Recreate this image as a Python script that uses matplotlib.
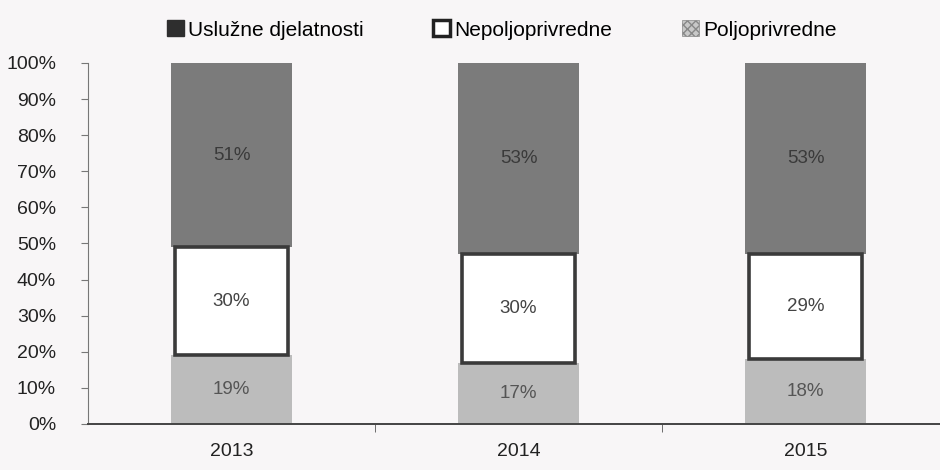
import matplotlib
matplotlib.use("Agg")
import matplotlib.pyplot as plt
from matplotlib.patches import Patch
import numpy as np

years = ["2013", "2014", "2015"]
poljoprivredne = [19, 17, 18]
nepoljoprivredne = [30, 30, 29]
usluzne = [51, 53, 53]
yticks = [0, 10, 20, 30, 40, 50, 60, 70, 80, 90, 100]
ytick_labels = [f"{v}%" for v in yticks]

plt.rcParams['font.family'] = ['Liberation Sans', 'DejaVu Sans']

bg = "#f8f6f7"
fig = plt.figure(figsize=(9.4, 4.7), dpi=100, facecolor=bg)
ax = fig.add_axes([0.0936, 0.098, 0.916, 0.768], facecolor=bg)

x = np.arange(len(years))
w = 0.42
c_bottom = "#bcbcbc"
c_top = "#7b7b7b"
edge_mid = "#3a3a3a"

ax.bar(x, poljoprivredne, w, color=c_bottom, edgecolor="none", zorder=2)
b1 = np.array(poljoprivredne)
ax.bar(x, nepoljoprivredne, w * 0.93, bottom=b1, color="white",
       edgecolor=edge_mid, linewidth=2.6, zorder=3)
b2 = b1 + np.array(nepoljoprivredne)
ax.bar(x, usluzne, w, bottom=b2, color=c_top, edgecolor="none", zorder=2)

for i in range(len(years)):
    ax.text(x[i], poljoprivredne[i] / 2, f"{poljoprivredne[i]}%", ha="center",
            va="center", fontsize=13.5, color="#555555", zorder=4)
    ax.text(x[i], b1[i] + nepoljoprivredne[i] / 2, f"{nepoljoprivredne[i]}%",
            ha="center", va="center", fontsize=13.5, color="#444444", zorder=4)
    ax.text(x[i], b2[i] + usluzne[i] / 2, f"{usluzne[i]}%", ha="center",
            va="center", fontsize=13.5, color="#3a3a3a", zorder=4)

ax.set_xlim(-0.5, 2.5)
ax.set_ylim(0, 100)
ax.set_yticks(yticks)
ax.set_yticklabels(ytick_labels, fontsize=14, color="#222222")
ax.set_xticks(x)
ax.set_xticklabels(years, fontsize=14, color="#222222")
ax.set_xticks([0.5, 1.5], minor=True)
ax.tick_params(axis="x", which="major", length=0, pad=14)
ax.tick_params(axis="x", which="minor", length=6, direction="out", color="#555555")
ax.tick_params(axis="y", length=5, direction="out", color="#777777", pad=18)
for s in ["top", "right"]:
    ax.spines[s].set_visible(False)
ax.spines["left"].set_color("#777777")
ax.spines["bottom"].set_color("#444444")
ax.spines["bottom"].set_linewidth(1.4)

h1 = Patch(facecolor="#2e2e2e", edgecolor="#2e2e2e")
h2 = Patch(facecolor="white", edgecolor="#222222", linewidth=2.5)
h3 = Patch(facecolor="#c8c8c8", edgecolor="#888888", hatch="xxxx", linewidth=0.5)
common = dict(frameon=False, handlelength=0.8, handleheight=0.8,
              handletextpad=0.2, fontsize=15, loc="center left",
              borderaxespad=0, borderpad=0)
l1 = fig.legend([h1], ["Uslužne djelatnosti"], bbox_to_anchor=(0.178, 0.936), **common)
l2 = fig.legend([h2], ["Nepoljoprivredne"], bbox_to_anchor=(0.461, 0.936), **common)
l3 = fig.legend([h3], ["Poljoprivredne"], bbox_to_anchor=(0.7255, 0.936), **common)

fig.savefig("out.png", dpi=100, facecolor=bg)
